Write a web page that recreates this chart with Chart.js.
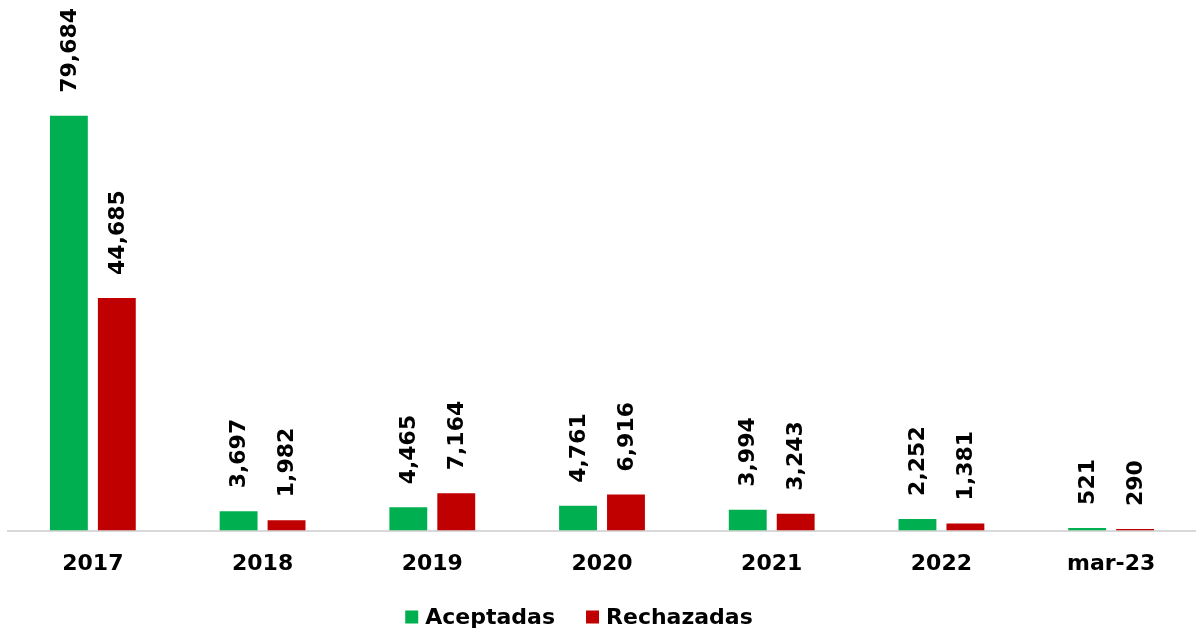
<!DOCTYPE html>
<html>
<head>
<meta charset="utf-8">
<script src="https://cdn.jsdelivr.net/npm/chart.js@4/dist/chart.umd.min.js"></script>
<style>
    html, body { margin: 0; padding: 0; background: #fff; }
    #wrap { width: 1196px; height: 631px; position: relative; }
</style>
</head>
<body>
<div id="wrap"><canvas id="chart"></canvas></div>
<script>
const categories = ['2017', '2018', '2019', '2020', '2021', '2022', 'mar-23'];
const aceptadas = [79684, 3697, 4465, 4761, 3994, 2252, 521];
const rechazadas = [44685, 1982, 7164, 6916, 3243, 1381, 290];

const fontFamily = '"DejaVu Sans", sans-serif';

// rotated value labels above each bar
const barLabels = {
    id: 'barLabels',
    afterDatasetsDraw(chart) {
        const ctx = chart.ctx;
        ctx.save();
        ctx.fillStyle = '#000';
        ctx.font = `bold 22px ${fontFamily}`;
        ctx.textAlign = 'left';
        ctx.textBaseline = 'middle';
        chart.data.datasets.forEach((ds, i) => {
            chart.getDatasetMeta(i).data.forEach((bar, j) => {
                ctx.save();
                ctx.translate(bar.x, bar.y - 23);
                ctx.rotate(-Math.PI / 2);
                ctx.fillText(ds.data[j].toLocaleString('en-US'), 0, 1);
                ctx.restore();
            });
        });
        ctx.restore();
    }
};

// legend with tighter box/text gap than the built-in one
const bottomLegend = {
    id: 'bottomLegend',
    afterDraw(chart) {
        const ctx = chart.ctx;
        const box = 13, gap = 7, spacing = 31, y = 617;
        ctx.save();
        ctx.font = `bold 22px ${fontFamily}`;
        ctx.textBaseline = 'middle';
        ctx.textAlign = 'left';
        const items = chart.data.datasets.map(ds => ({
            text: ds.label,
            color: ds.backgroundColor,
            w: box + gap + ctx.measureText(ds.label).width
        }));
        const total = items.reduce((s, it) => s + it.w, 0) + spacing * (items.length - 1);
        let x = 579 - total / 2;
        items.forEach(it => {
            ctx.fillStyle = it.color;
            ctx.fillRect(x, y - box / 2, box, box);
            ctx.fillStyle = '#000';
            ctx.fillText(it.text, x + box + gap, y + 1);
            x += it.w + spacing;
        });
        ctx.restore();
    }
};

new Chart(document.getElementById('chart'), {
    type: 'bar',
    data: {
        labels: categories,
        datasets: [
            { label: 'Aceptadas', data: aceptadas, backgroundColor: '#00b050' },
            { label: 'Rechazadas', data: rechazadas, backgroundColor: '#c00000' }
        ]
    },
    plugins: [barLabels, bottomLegend],
    options: {
        responsive: true,
        maintainAspectRatio: false,
        animation: false,
        categoryPercentage: 0.565,
        barPercentage: 0.79,
        layout: { padding: { left: 8, right: 0, top: 10, bottom: 34 } },
        scales: {
            x: {
                grid: { display: false, drawTicks: false },
                border: { display: true, color: '#d9d9d9', width: 2 },
                ticks: {
                    color: '#000',
                    padding: 20,
                    font: { family: fontFamily, size: 22, weight: 'bold' }
                }
            },
            y: {
                display: false,
                min: 0,
                max: 100000
            }
        },
        plugins: {
            tooltip: { enabled: false },
            legend: { display: false }
        }
    }
});
</script>
</body>
</html>
